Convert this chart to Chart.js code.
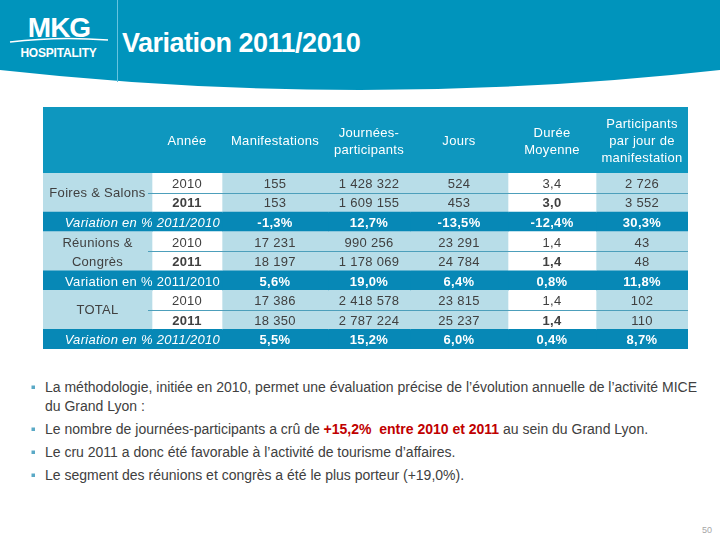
<!DOCTYPE html>
<html lang="fr">
<head>
<meta charset="utf-8">
<script src="https://cdn.jsdelivr.net/npm/chart.js@4.4.1/dist/chart.umd.min.js"></script>
<style>
html, body { margin: 0; padding: 0; background: #fff; }
#page { position: relative; width: 720px; height: 540px; overflow: hidden; font-family: "Liberation Sans", Arial, sans-serif; }
#deco { position: absolute; left: 0; top: 0; }
#tableWrap { position: absolute; left: 43px; top: 107px; width: 645px; height: 242px; }
</style>
</head>
<body>
<div id="page">
  <svg id="deco" width="720" height="540" font-family="Liberation Sans, Arial, sans-serif">
    <!-- header band -->
    <path d="M0,0 H720 V70 Q360,110 0,70 Z" fill="#0094bc"/>
    <line x1="117.5" y1="0" x2="117.5" y2="82" stroke="#66c3df" stroke-width="1"/>
    <text x="59" y="37" text-anchor="middle" font-size="28" font-weight="bold" letter-spacing="-1" fill="#fff">MKG</text>
    <path d="M10,42 Q58,36 108,40" stroke="#fff" stroke-width="1.5" fill="none"/>
    <text x="58.5" y="57" text-anchor="middle" font-size="12" font-weight="bold" letter-spacing="-0.2" fill="#fff">HOSPITALITY</text>
    <text x="122" y="52" font-size="27" font-weight="bold" letter-spacing="-0.5" fill="#fff">Variation 2011/2010</text>

    <!-- bullets -->
    <g fill="#5aa9c6">
      <rect x="31.5" y="385.5" width="3.5" height="3.5"/>
      <rect x="31.5" y="427.5" width="3.5" height="3.5"/>
      <rect x="31.5" y="450.5" width="3.5" height="3.5"/>
      <rect x="31.5" y="473.5" width="3.5" height="3.5"/>
    </g>
    <g font-size="14" fill="#404040">
      <text x="45" y="392" textLength="652" lengthAdjust="spacingAndGlyphs">La méthodologie, initiée en 2010, permet une évaluation précise de l’évolution annuelle de l’activité MICE</text>
      <text x="45" y="411">du Grand Lyon :</text>
      <text x="45" y="434">Le nombre de journées-participants a crû de <tspan fill="#c00000" font-weight="bold">+15,2%&#160;&#160;entre 2010 et 2011</tspan> au sein du Grand Lyon.</text>
      <text x="45" y="457">Le cru 2011 a donc été favorable à l’activité de tourisme d’affaires.</text>
      <text x="45" y="480">Le segment des réunions et congrès a été le plus porteur (+19,0%).</text>
    </g>
    <text x="712" y="533" text-anchor="end" font-size="9" fill="#a6a6a6">50</text>
  </svg>
  <div id="tableWrap"><canvas id="mice-table" width="645" height="242"></canvas></div>
</div>
<script>
// column headers (one entry per line)
const columns = [['Année'], ['Manifestations'], ['Journées-', 'participants'], ['Jours'], ['Durée', 'Moyenne'], ['Participants', 'par jour de', 'manifestation']];
const segments = ['Foires & Salons', 'Réunions &\nCongrès', 'TOTAL'];
const years = ['2010', '2011'];
const varLabel = 'Variation en % 2011/2010';

// values per segment, [2010, 2011]
const manifestations = [[155, 153], [17231, 18197], [17386, 18350]];
const journeesParticipants = [[1428322, 1609155], [990256, 1178069], [2418578, 2787224]];
const jours = [[524, 453], [23291, 24784], [23815, 25237]];
const dureeMoyenne = [[3.4, 3.0], [1.4, 1.4], [1.4, 1.4]];
const participantsJour = [[2726, 3552], [43, 48], [102, 110]];

// variation en % 2011/2010 per segment
const varManifestations = [-1.3, 5.6, 5.5];
const varJournees = [12.7, 19.0, 15.2];
const varJours = [-13.5, 6.4, 6.0];
const varDuree = [-12.4, 0.8, 0.4];
const varParticipants = [30.3, 11.8, 8.7];

// layout: column edges in table units (px of the table box)
const colEdges = [0, 109, 179, 285, 367, 465, 553, 645];
const whiteCols = [1, 5];
const headerColor = '#0e97bf';
const varColor = '#0788b6';
const lightColor = '#b8dde8';
const textColor = '#404040';
const fontFamily = '"Liberation Sans", Arial, sans-serif';

// number formats (French)
const fmtInt = n => String(n).replace(/\B(?=(\d{3})+(?!\d))/g, ' ');
const fmtDec = n => n.toFixed(1).replace('.', ',');
const fmtPct = n => fmtDec(n) + '%';

// build the rows: 2010, 2011, variation for every segment
const rows = [];
segments.forEach((seg, s) => {
    years.forEach((yr, y) => {
        rows.push({
            kind: 'year', seg: s, year: y,
            cells: [yr, fmtInt(manifestations[s][y]), fmtInt(journeesParticipants[s][y]),
                fmtInt(jours[s][y]), fmtDec(dureeMoyenne[s][y]), fmtInt(participantsJour[s][y])]
        });
    });
    rows.push({
        kind: 'var', seg: s,
        cells: [varLabel, fmtPct(varManifestations[s]), fmtPct(varJournees[s]),
            fmtPct(varJours[s]), fmtPct(varDuree[s]), fmtPct(varParticipants[s])]
    });
});
const rowLabels = rows.map((r, i) => 'r' + i);

// one floating bar dataset per column = cell backgrounds
const datasets = colEdges.slice(0, -1).map((e, c) => ({
    data: rows.map(() => [colEdges[c], colEdges[c + 1]]),
    backgroundColor: ctx => {
        const r = rows[ctx.dataIndex];
        if (!r) return lightColor;
        if (r.kind === 'var') return varColor;
        return whiteCols.includes(c) ? '#ffffff' : lightColor;
    },
    borderWidth: 0,
    grouped: false,
    barPercentage: 1,
    categoryPercentage: 1
}));

// draws the header row, separators and cell texts
const tablePlugin = {
    id: 'tableText',
    beforeDatasetsDraw(chart) {
        const {ctx, chartArea} = chart;
        ctx.save();
        ctx.fillStyle = headerColor;
        ctx.fillRect(chartArea.left, 0, chartArea.right - chartArea.left, chartArea.top);
        ctx.fillStyle = lightColor;
        ctx.fillRect(chartArea.left, chartArea.top, chartArea.right - chartArea.left, chartArea.bottom - chartArea.top);
        ctx.restore();
    },
    afterDatasetsDraw(chart) {
        const {ctx, chartArea} = chart;
        const xs = chart.scales.x;
        const ys = chart.scales.y;
        const colCenter = c => xs.getPixelForValue((colEdges[c] + colEdges[c + 1]) / 2);
        ctx.save();
        ctx.textBaseline = 'middle';
        ctx.textAlign = 'center';
        ctx.letterSpacing = '0.3px';

        // header
        ctx.fillStyle = '#ffffff';
        ctx.font = '13px ' + fontFamily;
        const midH = chartArea.top / 2 + 1.5;
        columns.forEach((lines, i) => {
            const x = colCenter(i + 1);
            lines.forEach((t, k) => {
                ctx.fillText(t, x, midH + (k - (lines.length - 1) / 2) * 17);
            });
        });

        // separator between 2010 and 2011 rows
        ctx.strokeStyle = '#4d9fbb';
        ctx.lineWidth = 1;
        rows.forEach((r, i) => {
            if (r.kind === 'year' && r.year === 0) {
                const y = Math.round((ys.getPixelForValue(i) + ys.getPixelForValue(i + 1)) / 2) + 0.5;
                ctx.beginPath();
                ctx.moveTo(xs.getPixelForValue(colEdges[1] - 4), y);
                ctx.lineTo(xs.getPixelForValue(colEdges[colEdges.length - 1]), y);
                ctx.stroke();
            }
        });

        // segment labels in the first column
        ctx.fillStyle = textColor;
        ctx.font = '13px ' + fontFamily;
        segments.forEach((seg, s) => {
            const first = rows.findIndex(r => r.seg === s);
            const lines = seg.split('\n');
            if (lines.length === 1) {
                const y = (ys.getPixelForValue(first) + ys.getPixelForValue(first + 1)) / 2 + 1;
                ctx.fillText(lines[0], colCenter(0), y);
            } else {
                lines.forEach((t, k) => ctx.fillText(t, colCenter(0), ys.getPixelForValue(first + k) + 1.5));
            }
        });

        // cells
        rows.forEach((r, i) => {
            const y = ys.getPixelForValue(i) + 1.5;
            if (r.kind === 'year') {
                r.cells.forEach((t, k) => {
                    const bold = (k === 0 || k === 4) && r.year === 1;
                    ctx.font = (bold ? 'bold ' : '') + '13px ' + fontFamily;
                    ctx.fillStyle = textColor;
                    ctx.fillText(t, colCenter(k + 1), y);
                });
            } else {
                ctx.fillStyle = '#ffffff';
                ctx.font = (r.seg === 1 ? '' : 'italic ') + '13px ' + fontFamily;
                ctx.textAlign = 'right';
                ctx.fillText(r.cells[0], xs.getPixelForValue(colEdges[2] - 2), y);
                ctx.textAlign = 'center';
                ctx.font = 'bold 13px ' + fontFamily;
                r.cells.slice(1).forEach((t, k) => ctx.fillText(t, colCenter(k + 2), y));
            }
        });
        ctx.restore();
    }
};

const config = {
    type: 'bar',
    data: { labels: rowLabels, datasets },
    options: {
        indexAxis: 'y',
        responsive: false,
        animation: false,
        layout: { padding: { top: 66, left: 0, right: 0, bottom: 0 } },
        scales: {
            x: { type: 'linear', min: 0, max: colEdges[colEdges.length - 1], display: false },
            y: { type: 'category', display: false, offset: true }
        },
        plugins: { legend: { display: false }, tooltip: { enabled: false } }
    },
    plugins: [tablePlugin]
};

const miceTable = new Chart(document.getElementById('mice-table'), config);
</script>
</body>
</html>
